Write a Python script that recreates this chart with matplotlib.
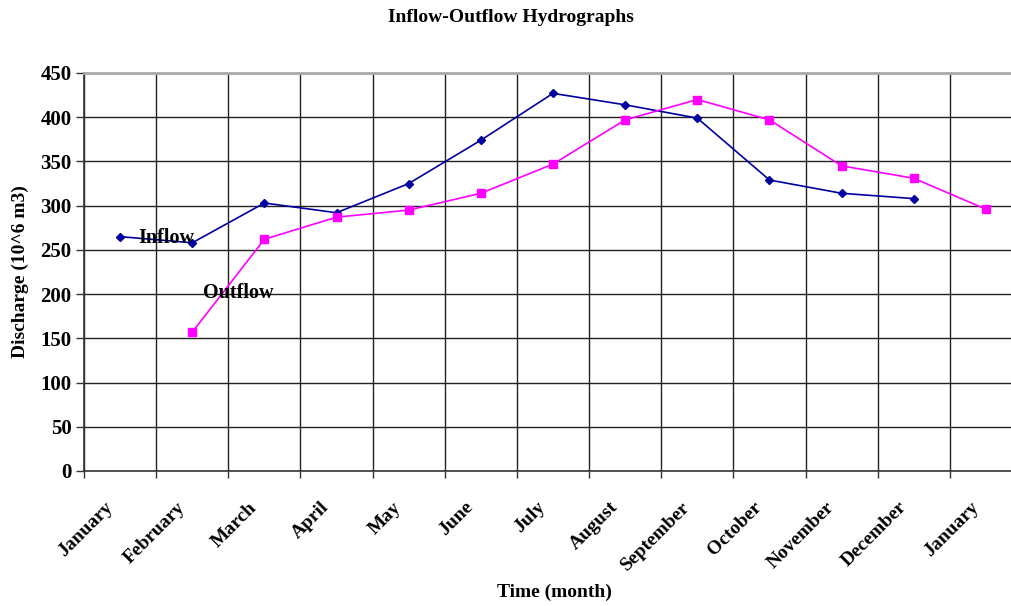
import matplotlib
matplotlib.use("Agg")
import matplotlib.pyplot as plt
import matplotlib.transforms as mtransforms
import numpy as np
from matplotlib.ticker import FixedLocator, MultipleLocator

months = ["January", "February", "March", "April", "May", "June", "July",
          "August", "September", "October", "November", "December", "January"]
inflow = [265, 258, 303, 292, 325, 374, 427, 414, 399, 329, 314, 308]
outflow = [157, 262, 287, 295, 314, 347, 397, 420, 397, 345, 331, 296]

plt.rcParams['font.family'] = ['Liberation Serif', 'DejaVu Serif']
plt.rcParams['font.weight'] = 'bold'

fig = plt.figure(figsize=(10.11, 6.06), dpi=100)
ax = fig.add_axes([84/1011, (606-471)/606, (1022-84)/1011, (471-73)/606])

n = len(months)
x_in = np.arange(len(inflow))
x_out = np.arange(1, 1 + len(outflow))

ax.plot(x_in, inflow, color='#0000A0', lw=1.2, marker='D', ms=4.5, zorder=3)
ax.plot(x_out, outflow, color='#FF00FF', lw=1.2, marker='s', ms=6, zorder=3)

ax.set_xlim(-0.5, n - 0.5)
ax.set_ylim(0, 450)
ax.yaxis.set_major_locator(MultipleLocator(50))
ax.set_xticks(np.arange(n))
ax.set_xticklabels(months, rotation=45, ha='right', va='top', rotation_mode='anchor',
                   fontsize=14, fontweight='bold')
ax.xaxis.set_minor_locator(FixedLocator(np.arange(n + 1) - 0.5))
ax.tick_params(axis='x', which='major', length=0, pad=20)
ax.tick_params(axis='x', which='minor', length=5, width=1, color='#333333')
ax.tick_params(axis='y', length=6, width=1, color='#333333', labelsize=15, pad=3)
for lab in ax.get_yticklabels():
    lab.set_fontweight('bold')
offset = mtransforms.ScaledTranslation(-16/100, 0, fig.dpi_scale_trans)
for lab in ax.get_xticklabels():
    lab.set_transform(lab.get_transform() + offset)

ax.grid(True, axis='y', which='major', color='#222222', lw=1)
ax.grid(True, axis='x', which='minor', color='#222222', lw=1)
ax.grid(False, axis='x', which='major')
ax.set_axisbelow(True)

for s in ['left', 'bottom']:
    ax.spines[s].set_color('#333333')
    ax.spines[s].set_linewidth(1.2)
ax.spines['top'].set_color('#aaaaaa')
ax.spines['top'].set_linewidth(2)
ax.spines['right'].set_color('#aaaaaa')

fig.text(554/1011, 1 - 592/606, 'Time (month)', ha='center', va='center',
         fontsize=14, fontweight='bold')
ax.set_ylabel('Discharge (10^6 m3)', fontsize=14, fontweight='bold', labelpad=8)
fig.text(511/1011, 1 - 17/606, 'Inflow-Outflow Hydrographs', ha='center', va='center',
         fontsize=14, fontweight='bold')

ax.text(0.25, 264, 'Inflow', fontsize=14.5, fontweight='bold', va='center', ha='left')
ax.text(1.15, 201, 'Outflow', fontsize=14.5, fontweight='bold', va='center', ha='left')

fig.savefig('out.png', dpi=100)
